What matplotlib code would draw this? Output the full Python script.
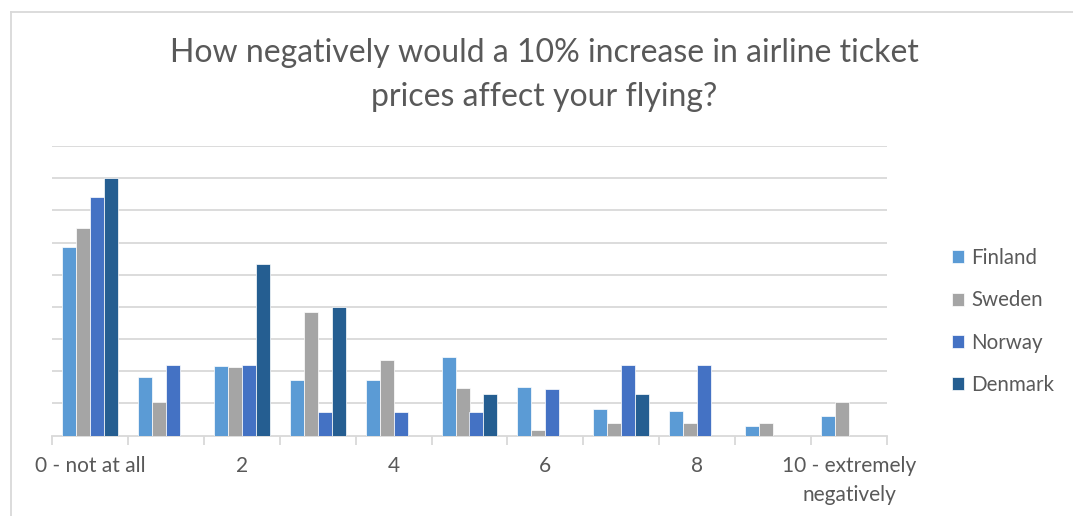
import matplotlib
matplotlib.use("Agg")
import matplotlib.pyplot as plt
from matplotlib.lines import Line2D
import numpy as np

plt.rcParams['font.family'] = ['Lato', 'DejaVu Sans']

# Survey answers on a 0-10 scale, share of respondents (%) per country
categories = ["0 - not at all", "1", "2", "3", "4", "5", "6", "7", "8", "9",
              "10 - extremely\nnegatively"]
finland = [29.3, 9.1, 10.8, 8.7, 8.7, 12.2, 7.5, 4.1, 3.8, 1.5, 3.0]
sweden = [32.2, 5.2, 10.6, 19.2, 11.7, 7.4, 0.9, 2.0, 2.0, 2.0, 5.2]
norway = [37.0, 11.0, 11.0, 3.6, 3.6, 3.6, 7.3, 11.0, 11.0, 0.0, 0.0]
denmark = [40.0, 0.0, 26.6, 20.0, 0.0, 6.5, 0.0, 6.5, 0.0, 0.0, 0.0]

series_names = ["Finland", "Sweden", "Norway", "Denmark"]
series_values = [finland, sweden, norway, denmark]
colors = ["#5B9BD5", "#A5A5A5", "#4472C4", "#255E91"]

TEXT = "#595959"
GRID = "#D9D9D9"

W, H = 1073, 516
fig = plt.figure(figsize=(W / 100, H / 100), dpi=100)
ax = fig.add_axes([52 / W, 1 - 435.5 / H, (887 - 52) / W, (435.5 - 146) / H])

x = np.arange(len(categories))
bw = 0.184
for i, (name, vals, c) in enumerate(zip(series_names, series_values, colors)):
    ax.bar(x + (i - 1.5) * bw, vals, width=bw, color=c, edgecolor="white",
           linewidth=0.5, label=name, zorder=3)

ax.set_xlim(-0.5, len(categories) - 0.5)
ax.set_ylim(0, 45)
for yv in range(5, 50, 5):
    ax.axhline(yv, color=GRID, lw=1.3, zorder=1)

for s in ("top", "right", "left"):
    ax.spines[s].set_visible(False)
ax.spines["bottom"].set_color(GRID)
ax.spines["bottom"].set_linewidth(1.3)
ax.set_yticks([])

# tick marks on category boundaries, labels on every second category
ax.set_xticks(np.arange(-0.5, len(categories), 1.0))
ax.set_xticklabels([])
ax.tick_params(axis="x", which="major", length=6.5, width=1.3, color=GRID)
ax.set_xticks(x[::2], minor=True)
ax.set_xticklabels(categories[::2], minor=True)
ax.tick_params(axis="x", which="minor", length=0, pad=15, labelsize=15,
               labelcolor=TEXT)
for lbl in ax.get_xticklabels(minor=True):
    lbl.set_linespacing(1.55)

fig.text(544 / W, 1 - 106.5 / H,
         "How negatively would a 10% increase in airline ticket\nprices affect your flying?",
         ha="center", va="baseline", fontsize=23, color=TEXT, linespacing=1.6)

fig.legend(loc="center left", bbox_to_anchor=(933 / W, 1 - 321.5 / H),
           frameon=False, fontsize=14.8, labelcolor=TEXT, handlelength=0.6,
           handleheight=0.6, handletextpad=0.35, labelspacing=1.08)

# chart frame
fig.add_artist(Line2D([10.5 / W, 1], [1 - 11.5 / H, 1 - 11.5 / H], color=GRID, lw=1.3))
fig.add_artist(Line2D([10.5 / W, 10.5 / W], [1 - 11.5 / H, 0], color=GRID, lw=1.3))

fig.savefig("out.png", dpi=100, facecolor="white")
